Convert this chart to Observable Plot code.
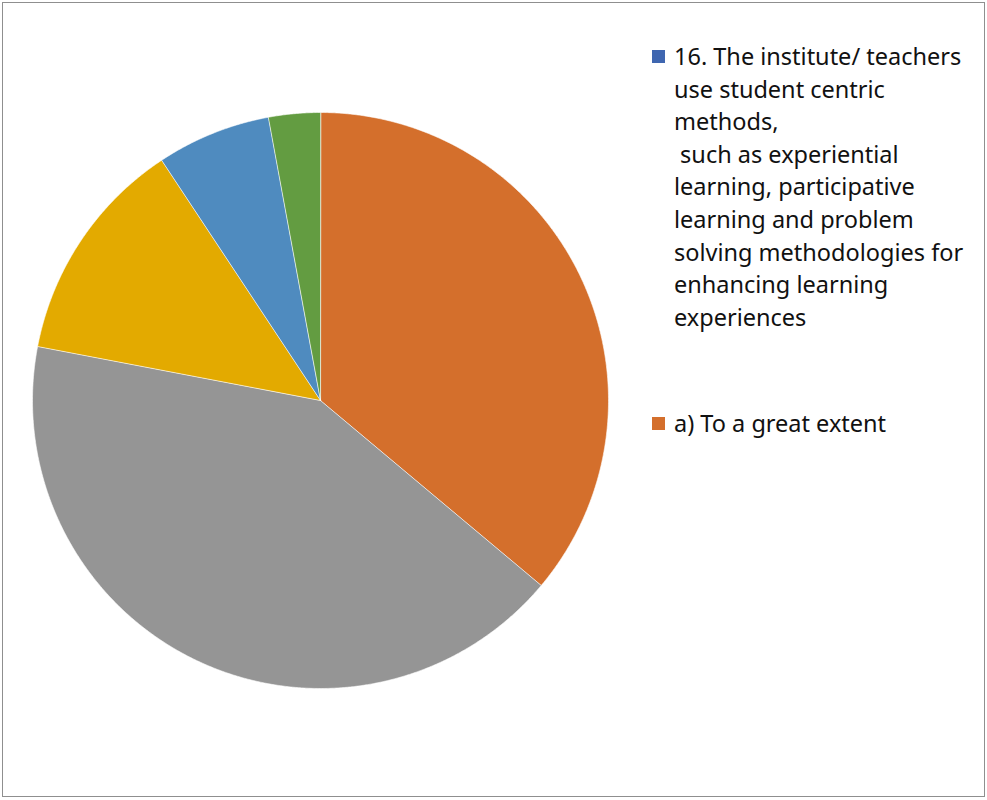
<!DOCTYPE html>
<html><head><meta charset="utf-8">
<script src="https://cdn.jsdelivr.net/npm/d3@7"></script>
<script src="https://cdn.jsdelivr.net/npm/@observablehq/plot@0.6"></script>
<style>
html,body{margin:0;padding:0;background:#fff;}
#frame{position:absolute;left:2px;top:2px;width:981px;height:793px;border:1.5px solid #8f8f8f;}
#chart{position:absolute;left:0;top:0;}
.leg{position:absolute;left:652px;font-family:"Noto Sans",sans-serif;font-size:23.5px;line-height:32.6px;color:#111;}
.leg .sw{position:absolute;left:0;width:13px;height:13px;}
.leg .tx{position:absolute;left:22px;white-space:pre;}
</style></head>
<body>
<div id="frame"></div>
<div id="chart"></div>
<div id="legend"></div>
<script>
const categories = [
  "16. The institute/ teachers use student centric methods,\n such as experiential learning, participative learning and problem solving methodologies for enhancing learning experiences",
  "a) To a great extent",
  "b) Moderate",
  "c) Somewhat",
  "d) Very little",
  "e) Not at all"
];
const values = [0, 36.1, 41.9, 12.7, 6.4, 2.9];
const colors = ["#3F66B0", "#D46F2C", "#959595", "#E3AA00", "#4F8BBF", "#639C41"];
const legendLines = [
  ["16. The institute/ teachers", "use student centric", "methods,", " such as experiential", "learning, participative", "learning and problem", "solving methodologies for", "enhancing learning", "experiences"],
  ["a) To a great extent"]
];

const data = categories.map((c, i) => ({category: c, value: values[i]}));
const arcs = d3.pie().sort(null).value(d => d.value)(data).filter(a => a.data.value > 0);
function slice(a) {
  const pts = [[0, 0]];
  const n = Math.max(2, Math.ceil((a.endAngle - a.startAngle) / 0.005));
  for (let k = 0; k <= n; k++) {
    const t = a.startAngle + (a.endAngle - a.startAngle) * k / n;
    pts.push([Math.sin(t), Math.cos(t)]);
  }
  pts.push([0, 0]);
  return {type: "Feature", properties: {category: a.data.category}, geometry: {type: "Polygon", coordinates: [pts]}};
}
const features = arcs.map(slice);

const chart = Plot.plot({
  width: 640,
  height: 800,
  marginLeft: 32, marginRight: 32, marginTop: 112, marginBottom: 112,
  projection: {type: "reflect-y", domain: {type: "MultiPoint", coordinates: [[-1, 0], [1, 0], [0, 1], [0, -1]]}},
  color: {domain: categories, range: colors},
  marks: [
    Plot.geo(features, {fill: d => d.properties.category, stroke: "#ffffff", strokeWidth: 0.6})
  ]
});
document.getElementById("chart").appendChild(chart);

const legend = document.getElementById("legend");
const tops = [40, 407];
legendLines.forEach((lines, i) => {
  const item = document.createElement("div");
  item.className = "leg";
  item.style.top = tops[i] + "px";
  const sw = document.createElement("div");
  sw.className = "sw";
  sw.style.top = "10px";
  sw.style.background = colors[i];
  const tx = document.createElement("div");
  tx.className = "tx";
  tx.textContent = lines.join("\n");
  item.appendChild(sw);
  item.appendChild(tx);
  legend.appendChild(item);
});
</script>
</body></html>
